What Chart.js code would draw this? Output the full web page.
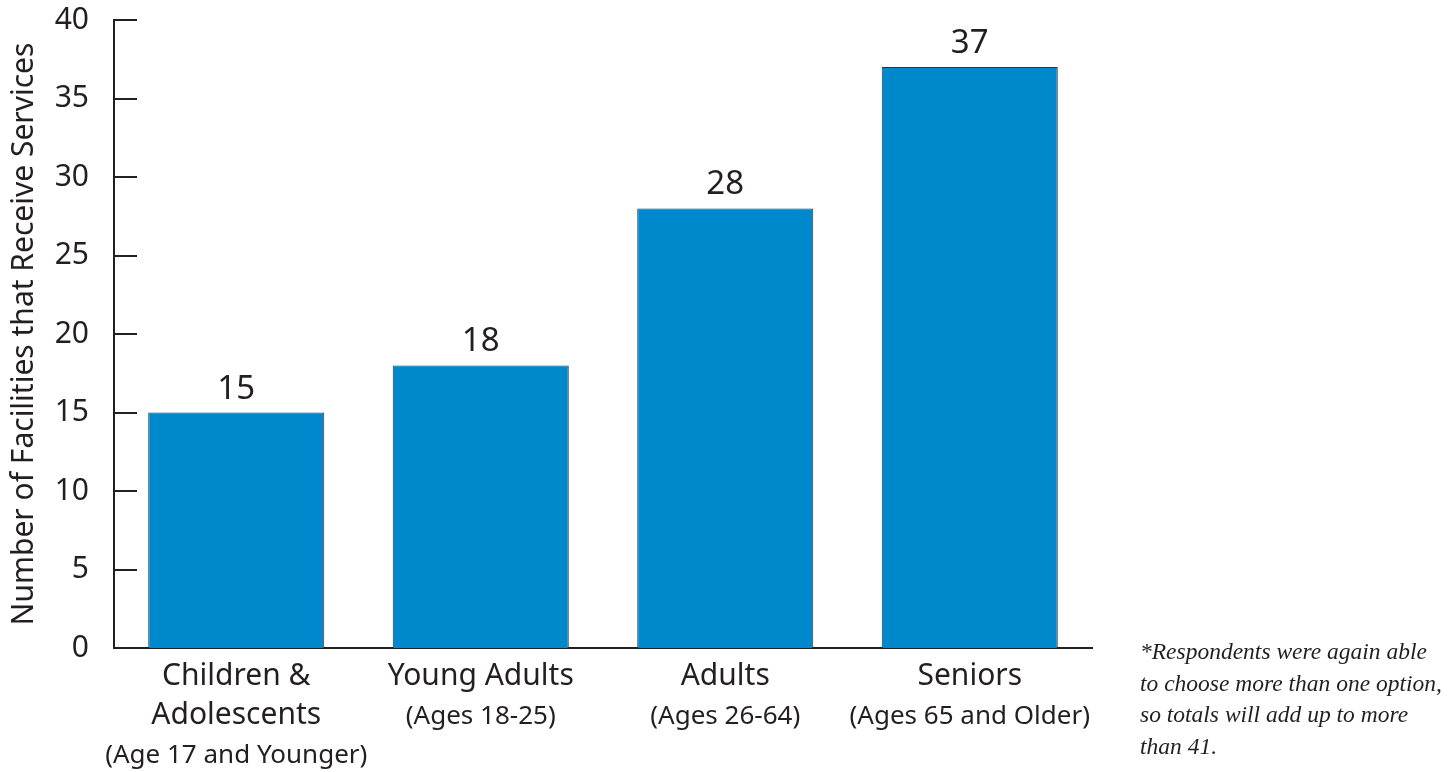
<!doctype html>
<html>
  <head>
    <meta charset="UTF-8">
    <title>Facilities by age group</title>
    <style>
      html, body { margin: 0; padding: 0; background: #fff; }
      #chart-box { width: 1456px; height: 772px; }
    </style>
  </head>
  <body>
    <div id="chart-box"><canvas id="myChart" width="1456" height="772"></canvas></div>

    <script src="https://cdn.jsdelivr.net/npm/chart.js@4.4.0/dist/chart.umd.min.js"></script>
    <script>
      // data
      var group_names = [['Children &', 'Adolescents'], ['Young Adults'], ['Adults'], ['Seniors']];
      var group_ages = ['(Age 17 and Younger)', '(Ages 18-25)', '(Ages 26-64)', '(Ages 65 and Older)'];
      var facility_counts = [15, 18, 28, 37];
      var y_ticks = [0, 5, 10, 15, 20, 25, 30, 35, 40];
      var y_title = 'Number of Facilities that Receive Services';
      var footnote = ['*Respondents were again able', 'to choose more than one option,', 'so totals will add up to more', 'than 41.'];

      var ink = '#231F20';
      var sans = '"Noto Sans", sans-serif';

      // inward tick marks, value labels, two-size category labels, footnote
      var extras = {
        id: 'extras',
        afterDraw: function(chart){
          var ctx = chart.ctx;
          var xs = chart.scales.x;
          var ys = chart.scales.y;
          var area = chart.chartArea;
          ctx.save();

          ctx.strokeStyle = ink;
          ctx.lineWidth = 2;
          y_ticks.forEach(function(v){
            var y = Math.round(ys.getPixelForValue(v));
            ctx.beginPath();
            ctx.moveTo(area.left, y);
            ctx.lineTo(area.left + 23, y);
            ctx.stroke();
          });

          ctx.fillStyle = ink;
          ctx.textAlign = 'center';
          ctx.textBaseline = 'alphabetic';
          ctx.font = '33px ' + sans;
          var meta = chart.getDatasetMeta(0);
          meta.data.forEach(function(bar, i){
            ctx.fillText(String(facility_counts[i]), bar.x, bar.y - 14);
          });

          for(let i = 0; i < group_names.length; i++){
            var x = xs.getPixelForValue(i);
            var y = area.bottom + 37;
            ctx.font = '30px ' + sans;
            group_names[i].forEach(function(line){
              ctx.fillText(line, x, y);
              y += 39;
            });
            ctx.font = '26px ' + sans;
            ctx.fillText(group_ages[i], x, y);
          }

          ctx.textAlign = 'left';
          ctx.font = 'italic 23.5px "Liberation Serif", serif';
          footnote.forEach(function(line, k){
            ctx.fillText(line, 1140, 659 + k * 31.5);
          });

          ctx.restore();
        }
      };

      var ctx = document.getElementById('myChart');
      var myChart = new Chart(ctx, {
        type: 'bar',
        data: {
          labels: group_names.map(function(n){ return n.join(' '); }),
          datasets: [{
            data: facility_counts,
            backgroundColor: '#0088CC',
            borderColor: '#333333',
            borderWidth: 1,
            categoryPercentage: 1.0,
            barPercentage: 0.72
          }]
        },
        options: {
          responsive: false,
          animation: false,
          layout: { padding: { top: 20, right: 364, left: 0, bottom: 0 } },
          plugins: { legend: { display: false }, tooltip: { enabled: false } },
          scales: {
            x: {
              grid: { display: false },
              border: { display: true, color: ink, width: 2 },
              ticks: { display: false },
              afterFit: function(scale){ scale.height = 124; }
            },
            y: {
              min: 0,
              max: 40,
              afterBuildTicks: function(scale){
                scale.ticks = y_ticks.map(function(v){ return { value: v }; });
              },
              grid: { display: false },
              border: { display: true, color: ink, width: 2 },
              ticks: { color: ink, font: { family: sans, size: 30 }, padding: 17 },
              title: {
                display: true,
                text: y_title,
                color: ink,
                font: { family: sans, size: 30 },
                padding: { top: 6, bottom: 0 }
              },
              afterFit: function(scale){
                scale.width = 114;
                scale.paddingTop = 0;
                scale.paddingBottom = 0;
              }
            }
          }
        },
        plugins: [extras]
      });
    </script>
  </body>
</html>
